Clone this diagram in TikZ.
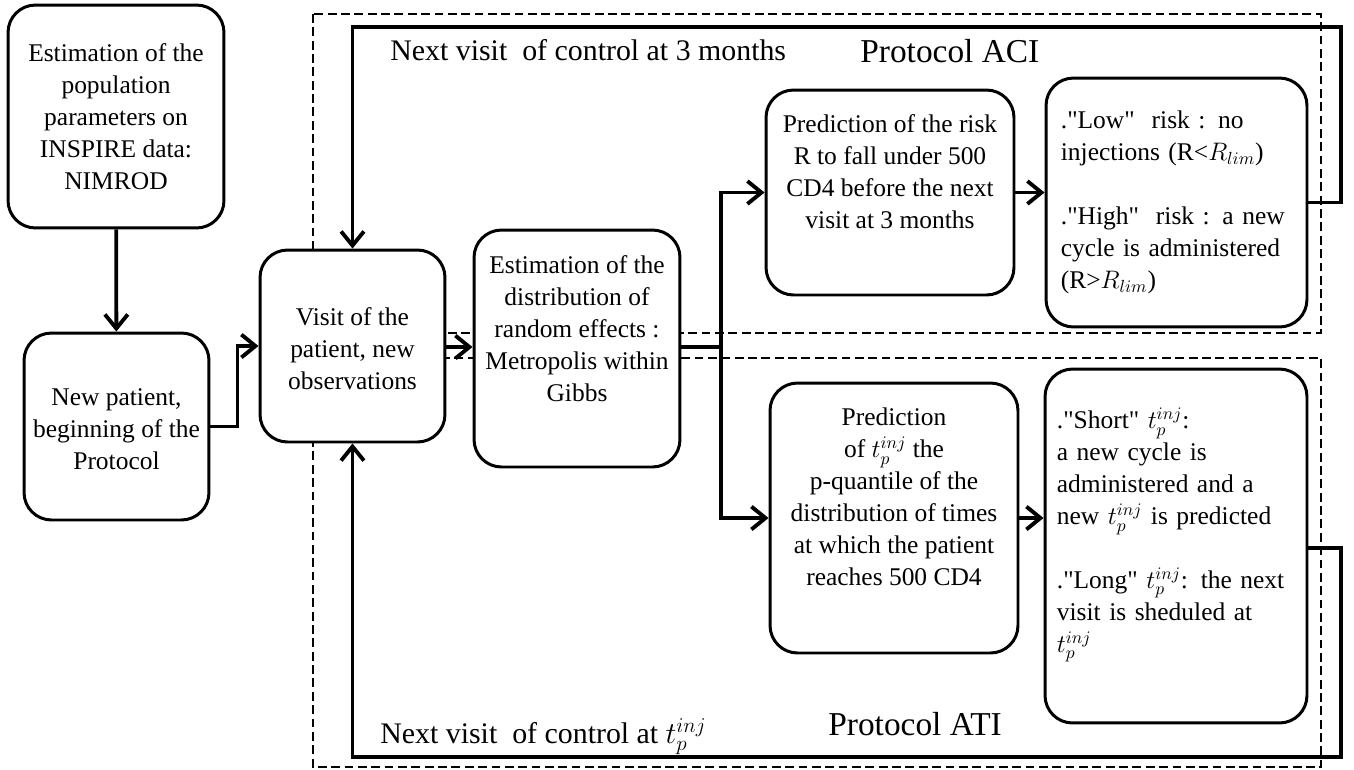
\documentclass[tikz,border=0pt]{standalone}
\usepackage{fontspec}
\setmainfont{Liberation Serif}
\usetikzlibrary{arrows.meta}

\newcommand{\qt}[1]{\textquotedbl#1\textquotedbl}

\tikzset{
    box/.style={draw, line width=1.7pt, rounded corners=0.55cm, fill=white, inner sep=0pt},
    boxtext/.style={align=center, inner sep=0pt, font=\fontsize{14.5}{18.2}\selectfont},
    listtext/.style={align=left, anchor=west, text width=4.8cm, inner sep=0pt, font=\fontsize{14.5}{18.2}\selectfont},
    flow/.style={line width=2.2pt, -{Straight Barb[length=8pt,width=13pt]}},
    zone/.style={line width=1.1pt, dash pattern=on 5pt off 2.6pt},
    looplabel/.style={anchor=base west, inner sep=0pt, font=\fontsize{17}{20}\selectfont},
    zonetitle/.style={anchor=base west, inner sep=0pt, font=\fontsize{19}{23}\selectfont}
}

\begin{document}
\begin{tikzpicture}[
    x=0.02cm,
    y=-0.02cm
]
    \useasboundingbox (0,0) rectangle (1354,769);

    \draw[zone] (313,14) rectangle (1321,333);
    \draw[zone] (313,358) rectangle (1321,767);

    \node[box, minimum width=4.32cm, minimum height=4.46cm] (pop) at (116,116.5) {};
    \node[box, minimum width=3.7cm, minimum height=3.74cm] (newp) at (116.5,426.5) {};
    \node[box, minimum width=3.7cm, minimum height=3.84cm] (visit) at (352.5,346) {};
    \node[box, minimum width=4.12cm, minimum height=4.74cm] (estd) at (577,348.5) {};
    \node[box, minimum width=4.96cm, minimum height=4.1cm] (risk) at (890,192.5) {};
    \node[box, minimum width=5.22cm, minimum height=4.98cm] (lowhigh) at (1176.5,202.5) {};
    \node[box, minimum width=4.96cm, minimum height=5.4cm] (tp) at (894,518) {};
    \node[box, minimum width=5.24cm, minimum height=7.08cm] (shortlong) at (1176,546) {};

    \node[boxtext] (pop-text) at (pop) {Estimation of the\\ population\\ parameters on\\ INSPIRE data:\\ NIMROD};
    \node[boxtext] (newp-text) at ([yshift=-0.06cm]newp.center) {New patient,\\ beginning of the\\ Protocol};
    \node[boxtext] (visit-text) at ([yshift=-0.06cm]visit.center) {Visit of the\\ patient, new\\ observations};
    \node[boxtext] (estd-text) at ([yshift=0.4cm]estd.center) {Estimation of the\\ distribution of\\ random effects :\\ Metropolis within\\ Gibbs};
    \node[boxtext] (risk-text) at ([yshift=0.42cm]risk.center) {Prediction of the risk\\ R to fall under 500\\ CD4 before the next\\ visit at 3 months};
    \node[boxtext] (tp-text) at ([yshift=0.42cm]tp.center) {Prediction\\ of $t_p^{inj}$ the\\ p-quantile of the\\ distribution of times\\ at which the patient\\ reaches 500 CD4};
    \node[listtext] (lowhigh-text) at ([xshift=0.32cm]lowhigh.west) {.\qt{Low}~ risk : no\\ injections (R<$R_{lim}$)\\[18pt] .\qt{High}~ risk : a new\\ cycle is administered\\ (R>$R_{lim}$)};
    \node[listtext] (shortlong-text) at ([xshift=0.26cm,yshift=0.22cm]shortlong.west) {.\qt{Short} $t_p^{inj}$:\\ a new cycle is\\ administered and a\\ new $t_p^{inj}$ is predicted\\[18pt] .\qt{Long} $t_p^{inj}$: the next\\ visit is sheduled at\\ $t_p^{inj}$};

    \node[looplabel] (aci-loop) at (390,60) {Next visit~ of control at 3 months};
    \node[zonetitle] (aci-title) at (860,62) {Protocol ACI};
    \node[looplabel] (ati-loop) at (380,743) {Next visit~ of control at $t_p^{inj}$};
    \node[zonetitle] (ati-title) at (828,735) {Protocol ATI};

    \coordinate (split) at (721,347);
    \coordinate (topturn) at (1341,27);
    \coordinate (botturn) at (1341,757);

    \draw[flow] (pop) -- (newp);
    \draw[flow] (newp.east) -- ++(27,0) |- (visit.west);
    \draw[flow] (visit.east |- split) -- (estd.west |- split);
    \draw[line width=2.2pt] (estd.east |- split) -- (split);
    \draw[flow] (split) |- (risk.west);
    \draw[flow] (split) |- (tp.west);
    \draw[flow] (risk.east) -- (risk.east -| lowhigh.west);
    \draw[flow] (tp.east) -- (tp.east -| shortlong.west);
    \draw[flow] (lowhigh.east) -| (topturn) -| (visit.north);
    \draw[flow] (shortlong.east |- 0,548) -| (botturn) -| (visit.south);
\end{tikzpicture}
\end{document}
